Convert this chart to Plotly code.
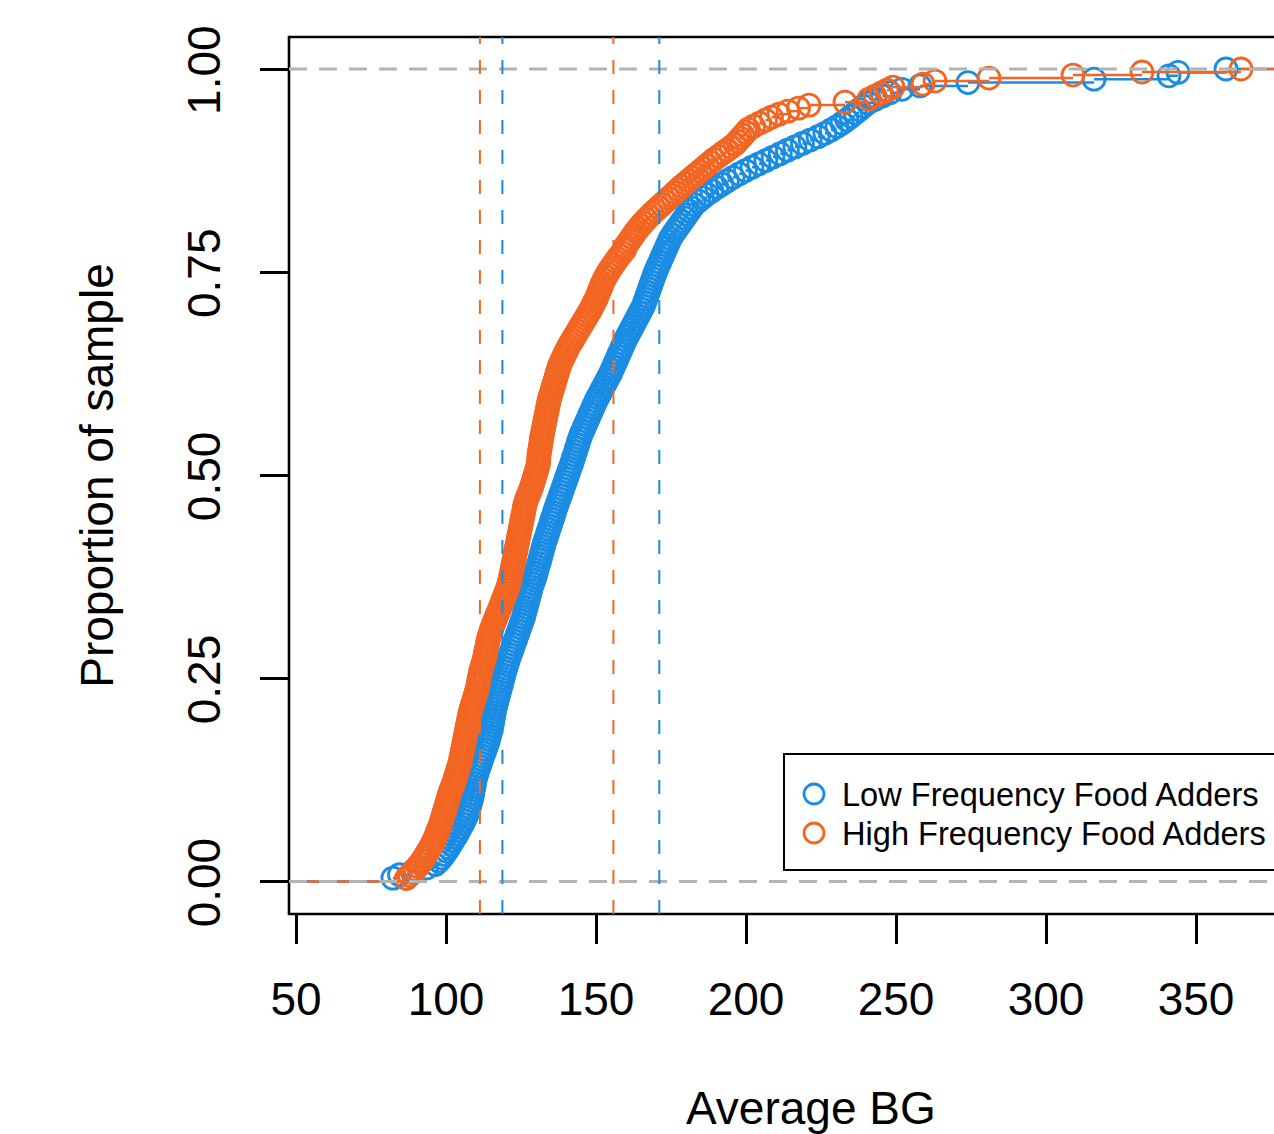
import numpy as np
import plotly.graph_objects as go

# Average blood glucose per person, sorted, for each group
low_bg = [
    82.3, 84.5, 89.0, 93.5, 96.5, 97.6, 98.6, 99.4, 100.2, 100.9,
    101.6, 102.3, 103.0, 103.7, 104.3, 104.9, 105.5, 106.1, 106.6, 107.1,
    107.5, 107.8, 108.1, 108.4, 108.7, 108.9, 109.1, 109.3, 109.5, 109.7,
    110.0, 110.3, 110.7, 111.1, 111.5, 111.9, 112.3, 112.7, 113.1, 113.5,
    113.9, 114.2, 114.5, 114.8, 115.0, 115.3, 115.5, 115.7, 115.9, 116.1,
    116.3, 116.6, 116.9, 117.2, 117.5, 117.8, 118.1, 118.4, 118.7, 119.0,
    119.3, 119.6, 119.9, 120.3, 120.6, 121.0, 121.4, 121.8, 122.2, 122.6,
    123.0, 123.4, 123.8, 124.2, 124.6, 125.0, 125.4, 125.8, 126.1, 126.4,
    126.7, 127.0, 127.3, 127.6, 127.9, 128.2, 128.5, 128.9, 129.3, 129.7,
    130.0, 130.3, 130.6, 131.0, 131.3, 131.6, 131.9, 132.2, 132.5, 132.8,
    133.2, 133.6, 133.9, 134.3, 134.7, 135.0, 135.4, 135.8, 136.1, 136.5,
    136.9, 137.3, 137.7, 138.1, 138.5, 138.9, 139.3, 139.7, 140.1, 140.5,
    140.9, 141.3, 141.7, 142.1, 142.4, 142.8, 143.2, 143.5, 143.9, 144.2,
    144.6, 145.0, 145.5, 146.0, 146.5, 147.0, 147.5, 148.0, 148.5, 149.0,
    149.5, 150.0, 150.6, 151.2, 151.8, 152.4, 153.0, 153.6, 154.2, 154.8,
    155.3, 155.8, 156.3, 156.8, 157.3, 157.8, 158.3, 158.8, 159.3, 159.8,
    160.4, 161.0, 161.6, 162.2, 162.8, 163.4, 164.0, 164.6, 165.2, 165.8,
    166.2, 166.6, 167.0, 167.4, 167.8, 168.2, 168.6, 169.0, 169.4, 169.8,
    170.3, 170.8, 171.3, 171.8, 172.3, 172.8, 173.3, 173.8, 174.3, 174.8,
    175.5, 176.3, 177.1, 177.9, 178.7, 179.5, 180.3, 181.1, 181.9, 182.7,
    184.2, 185.5, 187.0, 188.6, 190.3, 192.0, 193.8, 195.7, 197.7, 199.8,
    202.0, 204.3, 206.6, 209.0, 211.4, 213.8, 216.3, 218.8, 221.4, 224.0,
    226.3, 228.4, 230.3, 232.0, 233.6, 235.0, 236.4, 237.8, 239.2, 240.6,
    243.0, 245.5, 248.0, 252.0, 258.0, 274.0, 316.0, 341.0, 344.0, 360.0,
]

high_bg = [
    86.8, 87.8, 88.8, 89.7, 90.6, 91.4, 92.1, 92.8, 93.4, 94.0,
    94.6, 95.2, 95.7, 96.2, 96.6, 97.0, 97.4, 97.8, 98.2, 98.5,
    98.8, 99.1, 99.4, 99.7, 100.0, 100.3, 100.6, 100.9, 101.2, 101.5,
    101.9, 102.3, 102.7, 103.0, 103.3, 103.6, 103.9, 104.2, 104.5, 104.8,
    105.0, 105.2, 105.4, 105.6, 105.8, 106.0, 106.2, 106.4, 106.6, 106.8,
    107.0, 107.2, 107.4, 107.6, 107.8, 108.0, 108.3, 108.6, 108.9, 109.2,
    109.5, 109.8, 110.1, 110.4, 110.6, 110.8, 111.0, 111.2, 111.4, 111.6,
    111.9, 112.2, 112.5, 112.8, 113.0, 113.2, 113.4, 113.6, 113.8, 114.0,
    114.3, 114.6, 114.9, 115.2, 115.6, 116.0, 116.4, 116.8, 117.2, 117.6,
    118.0, 118.4, 118.8, 119.2, 119.6, 120.0, 120.4, 120.7, 121.0, 121.3,
    121.5, 121.7, 121.9, 122.1, 122.3, 122.5, 122.7, 122.9, 123.1, 123.3,
    123.5, 123.7, 123.9, 124.1, 124.3, 124.5, 124.7, 124.9, 125.1, 125.3,
    125.5, 125.7, 125.9, 126.1, 126.3, 126.6, 126.9, 127.3, 127.7, 128.1,
    128.5, 128.8, 129.1, 129.4, 129.7, 130.0, 130.3, 130.6, 130.8, 131.0,
    130.9, 131.0, 131.2, 131.4, 131.5, 131.7, 131.8, 132.0, 132.2, 132.4,
    132.6, 132.8, 133.0, 133.2, 133.4, 133.6, 133.8, 134.0, 134.2, 134.4,
    134.7, 135.0, 135.3, 135.6, 135.9, 136.2, 136.5, 136.8, 137.1, 137.4,
    137.7, 138.1, 138.5, 139.0, 139.5, 140.0, 140.5, 141.0, 141.6, 142.2,
    142.8, 143.4, 144.0, 144.6, 145.2, 145.8, 146.4, 147.0, 147.6, 148.2,
    148.7, 149.2, 149.7, 150.2, 150.6, 151.0, 151.4, 151.8, 152.2, 152.7,
    153.2, 153.8, 154.4, 155.1, 155.8, 156.5, 157.2, 158.0, 158.8, 159.6,
    159.8, 160.5, 161.2, 161.9, 162.6, 163.3, 164.1, 164.9, 165.8, 166.7,
    167.7, 168.7, 169.8, 170.9, 172.0, 173.1, 174.2, 175.3, 176.4, 177.5,
    178.6, 179.8, 181.0, 182.2, 183.4, 184.6, 185.8, 187.0, 188.2, 189.4,
    190.8, 192.2, 193.6, 195.0, 196.3, 197.2, 198.1, 199.0, 199.9, 200.8,
    202.5, 204.5, 206.5, 208.5, 211.0, 214.0, 217.5, 221.0,
    233.0, 241.0, 243.0, 245.0, 247.0, 249.0, 259.0, 263.0, 281.0, 309.0, 332.0, 365.0,
]

# First and third quartiles of each group (dashed reference lines)
low_quartiles = [118.8, 171.1]
high_quartiles = [111.3, 155.8]

series_names = ["Low Frequency Food Adders", "High Frequency Food Adders"]
x_ticks = [50, 100, 150, 200, 250, 300, 350]
y_ticks = [0.0, 0.25, 0.5, 0.75, 1.0]
y_tick_text = ["0.00", "0.25", "0.50", "0.75", "1.00"]

BLUE = "#1A8CE3"
ORANGE = "#F26522"
GRAY = "#B3B3B3"
COLORS = [BLUE, ORANGE]
FONT = "Liberation Sans, Arial, Helvetica, sans-serif"
X_RANGE = [47.667, 376.0]
Y_RANGE = [-0.04, 1.0394]

# plot-area geometry in pixels (the frame runs on past the right page edge)
PLOT_L, PLOT_T, PLOT_W, PLOT_H = 289, 37, 985, 877
FRAME_CENTER_X = 811


def px_to_paper(px, py):
    return (px - PLOT_L) / PLOT_W, (PLOT_T + PLOT_H - py) / PLOT_H


def ecdf(values):
    xs = np.sort(np.asarray(values, dtype=float))
    ys = np.arange(1, len(xs) + 1) / len(xs)
    return xs, ys


def step_segments(xs, ys):
    """Horizontal pieces of a right-continuous step function (no verticals)."""
    sx = [X_RANGE[0], xs[0], None]
    sy = [0.0, 0.0, None]
    for i in range(len(xs)):
        x_end = xs[i + 1] if i + 1 < len(xs) else X_RANGE[1]
        sx += [xs[i], x_end, None]
        sy += [ys[i], ys[i], None]
    return sx, sy


MARKER_SIZE = 22
MARKER_LW = 2.8

fig = go.Figure()

for values, color in [(low_bg, BLUE), (high_bg, ORANGE)]:
    xs, ys = ecdf(values)
    sx, sy = step_segments(xs, ys)
    fig.add_trace(go.Scatter(
        x=sx, y=sy, mode="lines", line=dict(color=color, width=2.5),
        showlegend=False, hoverinfo="skip", connectgaps=False,
    ))
    fig.add_trace(go.Scatter(
        x=xs, y=ys, mode="markers", showlegend=False,
        marker=dict(symbol="circle-open", size=MARKER_SIZE, color=color,
                    line=dict(color=color, width=MARKER_LW)),
    ))

# legend: swatches on an overlay axis spanning the plot area in paper units
sw_x, row1_y = px_to_paper(814, 794)
_, row2_y = px_to_paper(814, 833)
text_x, _ = px_to_paper(840, 0)
fig.add_trace(go.Scatter(
    x=[sw_x, sw_x], y=[row1_y, row2_y], xaxis="x2", yaxis="y2",
    mode="markers", showlegend=False, hoverinfo="skip",
    marker=dict(symbol="circle-open", size=MARKER_SIZE - 2, color=COLORS,
                line=dict(color=COLORS, width=MARKER_LW)),
))
annotations = []
for name, ry in zip(series_names, [row1_y, row2_y]):
    annotations.append(dict(text=name, xref="paper", yref="paper",
                            x=text_x, y=ry, xanchor="left", yanchor="middle",
                            showarrow=False,
                            font=dict(family=FONT, size=32.6, color="black")))
# x-axis title, centred under the full frame
title_x, title_y = px_to_paper(FRAME_CENTER_X, 1108)
annotations.append(dict(text="Average BG", xref="paper", yref="paper",
                        x=title_x, y=title_y, xanchor="center",
                        yanchor="middle", showarrow=False,
                        font=dict(family=FONT, size=46, color="black")))

shapes = []
# plot frame (open on the right)
shapes.append(dict(type="path", xref="paper", yref="paper",
                   path="M1.02,1 L0,1 L0,0 L1.02,0",
                   line=dict(color="black", width=2.6), layer="above"))
# dashed 0 / 1 guides
for level in (0.0, 1.0):
    shapes.append(dict(type="line", xref="paper", yref="y", x0=0, x1=1,
                       y0=level, y1=level,
                       line=dict(color=GRAY, width=3, dash="18px,12px"),
                       layer="above"))
# quartile markers
for qs, color in [(high_quartiles, ORANGE), (low_quartiles, BLUE)]:
    for q in qs:
        shapes.append(dict(type="line", xref="x", yref="paper", x0=q, x1=q,
                           y0=0, y1=1,
                           line=dict(color=color, width=2, dash="14px,16px"),
                           layer="above"))
# legend frame
lx0, ly0 = px_to_paper(784, 870)
_, ly1 = px_to_paper(784, 754)
shapes.append(dict(type="rect", xref="paper", yref="paper",
                   x0=lx0, x1=1.05, y0=ly0, y1=ly1,
                   line=dict(color="black", width=2),
                   fillcolor="rgba(0,0,0,0)", layer="above"))

fig.update_layout(
    width=1274, height=1134,
    margin=dict(l=PLOT_L, r=0, t=PLOT_T, b=1134 - PLOT_T - PLOT_H, pad=0),
    paper_bgcolor="white", plot_bgcolor="white",
    font=dict(family=FONT, color="black", size=46),
    shapes=shapes, annotations=annotations,
    showlegend=False,
    xaxis=dict(range=X_RANGE, tickmode="array", tickvals=x_ticks,
               ticks="outside", ticklen=29, tickwidth=2.6, tickcolor="black",
               showline=False, showgrid=False, zeroline=False,
               tickfont=dict(family=FONT, size=46, color="black"),
               ticklabelstandoff=16),
    yaxis=dict(range=Y_RANGE, tickmode="array", tickvals=y_ticks,
               ticktext=y_tick_text, tickangle=-90,
               ticks="outside", ticklen=28, tickwidth=2.6, tickcolor="black",
               showline=False, showgrid=False, zeroline=False,
               tickfont=dict(family=FONT, size=46, color="black"),
               ticklabelstandoff=22, ticklabelshift=8,
               title=dict(text="Proportion of sample", standoff=49,
                          font=dict(family=FONT, size=46, color="black"))),
    xaxis2=dict(overlaying="x", range=[0, 1], visible=False, fixedrange=True),
    yaxis2=dict(overlaying="y", range=[0, 1], visible=False, fixedrange=True),
)

fig.write_html("out.html")
